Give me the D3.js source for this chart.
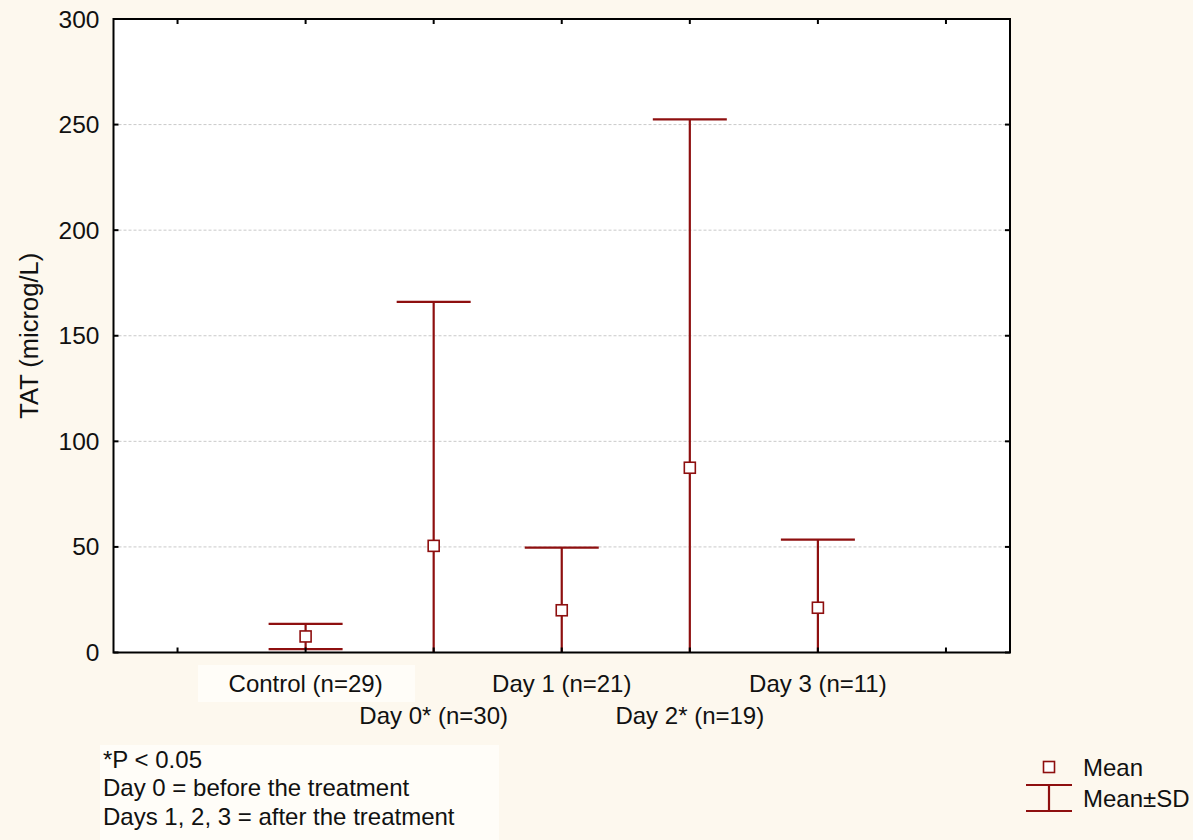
<!DOCTYPE html>
<html>
<head>
<meta charset="utf-8">
<script src="https://cdn.jsdelivr.net/npm/d3@7"></script>
<style>
  html, body { margin: 0; padding: 0; background: #FDF8EE; }
  svg { display: block; }
  text { font-family: "Liberation Sans", Arial, sans-serif; fill: #111; }
</style>
</head>
<body>
<svg id="chart" width="1193" height="840"></svg>
<script>
// ---- data ----
const categories = ["Control (n=29)", "Day 0* (n=30)", "Day 1 (n=21)", "Day 2* (n=19)", "Day 3 (n=11)"];
const means = [7.6, 50.5, 20.0, 87.5, 21.2];
const sds = [6.0, 115.5, 29.7, 165.0, 32.3];
const yTicks = [0, 50, 100, 150, 200, 250, 300];
const yTitle = "TAT (microg/L)";
const footnotes = ["*P < 0.05", "Day 0 = before the treatment", "Days 1, 2, 3 = after the treatment"];
const legendLabels = ["Mean", "Mean\u00B1SD"];

// ---- layout ----
const W = 1193, H = 840;
const plot = { left: 113.5, right: 1010, top: 19, bottom: 652.5 };
const red = "#8E0F0F";
const fs = 24;

const svg = d3.select("#chart");
svg.append("rect").attr("width", W).attr("height", H).attr("fill", "#FDF8EE");

const x = d3.scaleLinear().domain([-0.5, 6.5]).range([plot.left, plot.right]);
const y = d3.scaleLinear().domain([0, 300]).range([plot.bottom, plot.top]);
const xTickPos = d3.range(0, 7);

// plot background
svg.append("rect").attr("x", plot.left).attr("y", plot.top)
  .attr("width", plot.right - plot.left).attr("height", plot.bottom - plot.top)
  .attr("fill", "#FFFFFF");

// grid
svg.append("g").selectAll("line").data(yTicks.filter(d => d > 0 && d < 300)).join("line")
  .attr("x1", plot.left).attr("x2", plot.right)
  .attr("y1", d => y(d)).attr("y2", d => y(d))
  .attr("stroke", "#C9C9C9").attr("stroke-width", 1).attr("stroke-dasharray", "3,2");

// clip for error bars
svg.append("clipPath").attr("id", "clip").append("rect")
  .attr("x", plot.left).attr("y", plot.top)
  .attr("width", plot.right - plot.left).attr("height", plot.bottom - plot.top);

const gData = svg.append("g").attr("clip-path", "url(#clip)");
const idx = d3.range(categories.length);
const capHalf = 37;

gData.selectAll("line.whisker").data(idx).join("line").attr("class", "whisker")
  .attr("x1", i => x(i + 1)).attr("x2", i => x(i + 1))
  .attr("y1", i => y(means[i] + sds[i])).attr("y2", i => y(means[i] - sds[i]))
  .attr("stroke", red).attr("stroke-width", 2.2);
gData.selectAll("line.capTop").data(idx).join("line").attr("class", "capTop")
  .attr("x1", i => x(i + 1) - capHalf).attr("x2", i => x(i + 1) + capHalf)
  .attr("y1", i => y(means[i] + sds[i])).attr("y2", i => y(means[i] + sds[i]))
  .attr("stroke", red).attr("stroke-width", 2.2);
gData.selectAll("line.capBot").data(idx).join("line").attr("class", "capBot")
  .attr("x1", i => x(i + 1) - capHalf).attr("x2", i => x(i + 1) + capHalf)
  .attr("y1", i => y(means[i] - sds[i])).attr("y2", i => y(means[i] - sds[i]))
  .attr("stroke", red).attr("stroke-width", 2.2);

// axes (ticks inward, frame)
const axG = svg.append("g");
const tl = 5;
axG.append("rect").attr("x", plot.left).attr("y", plot.top)
  .attr("width", plot.right - plot.left).attr("height", plot.bottom - plot.top)
  .attr("fill", "none").attr("stroke", "#000").attr("stroke-width", 2);
axG.selectAll("line.xb").data(xTickPos).join("line").attr("class", "xb")
  .attr("x1", d => x(d)).attr("x2", d => x(d))
  .attr("y1", plot.bottom).attr("y2", plot.bottom - tl)
  .attr("stroke", "#000").attr("stroke-width", 2);
axG.selectAll("line.xt").data(xTickPos).join("line").attr("class", "xt")
  .attr("x1", d => x(d)).attr("x2", d => x(d))
  .attr("y1", plot.top).attr("y2", plot.top + tl)
  .attr("stroke", "#000").attr("stroke-width", 2);
axG.selectAll("line.yl").data(yTicks).join("line").attr("class", "yl")
  .attr("x1", plot.left).attr("x2", plot.left + tl)
  .attr("y1", d => y(d)).attr("y2", d => y(d))
  .attr("stroke", "#000").attr("stroke-width", 2);
axG.selectAll("line.yr").data(yTicks).join("line").attr("class", "yr")
  .attr("x1", plot.right).attr("x2", plot.right - tl)
  .attr("y1", d => y(d)).attr("y2", d => y(d))
  .attr("stroke", "#000").attr("stroke-width", 2);

// mean markers (on top)
const ms = 11;
svg.append("g").selectAll("rect").data(idx).join("rect")
  .attr("x", i => x(i + 1) - ms / 2).attr("y", i => y(means[i]) - ms / 2)
  .attr("width", ms).attr("height", ms)
  .attr("fill", "#FFFFFF").attr("stroke", red).attr("stroke-width", 1.6);

// y tick labels
svg.append("g").selectAll("text").data(yTicks).join("text")
  .attr("x", plot.left - 14).attr("y", d => y(d))
  .attr("text-anchor", "end").attr("dominant-baseline", "central")
  .attr("font-size", 24.5).text(d => d);

// y title
svg.append("text")
  .attr("transform", `translate(${29},${(plot.top + plot.bottom) / 2}) rotate(-90)`)
  .attr("text-anchor", "middle").attr("dominant-baseline", "central")
  .attr("font-size", 25.5).text(yTitle);

// x labels (staggered)
svg.append("rect").attr("x", 198).attr("y", 665).attr("width", 217).attr("height", 37)
  .attr("fill", "#FFFDF8");
svg.append("g").selectAll("text").data(idx).join("text")
  .attr("x", i => x(i + 1))
  .attr("y", i => i % 2 === 0 ? 683 : 715)
  .attr("text-anchor", "middle").attr("dominant-baseline", "central")
  .attr("font-size", fs).text(i => categories[i]);

// footnote box
svg.append("rect").attr("x", 100).attr("y", 745).attr("width", 399).attr("height", 95)
  .attr("fill", "#FFFDF8");
svg.append("g").selectAll("text").data(footnotes).join("text")
  .attr("x", 103).attr("y", (d, i) => 759 + i * 28.5)
  .attr("dominant-baseline", "central")
  .attr("font-size", fs).text(d => d);

// legend
const lgx = 1049;
svg.append("rect").attr("x", lgx - 5.5).attr("y", 767 - 5.5).attr("width", 11).attr("height", 11)
  .attr("fill", "#FFFFFF").attr("stroke", red).attr("stroke-width", 1.6);
const lg = svg.append("g").attr("stroke", red).attr("stroke-width", 2.2);
lg.append("line").attr("x1", lgx - 23).attr("x2", lgx + 23).attr("y1", 785).attr("y2", 785);
lg.append("line").attr("x1", lgx - 23).attr("x2", lgx + 23).attr("y1", 811).attr("y2", 811);
lg.append("line").attr("x1", lgx).attr("x2", lgx).attr("y1", 785).attr("y2", 811);
svg.append("g").selectAll("text").data(legendLabels).join("text")
  .attr("x", 1083).attr("y", (d, i) => 767 + i * 31)
  .attr("dominant-baseline", "central")
  .attr("font-size", fs).text(d => d);
</script>
</body>
</html>
